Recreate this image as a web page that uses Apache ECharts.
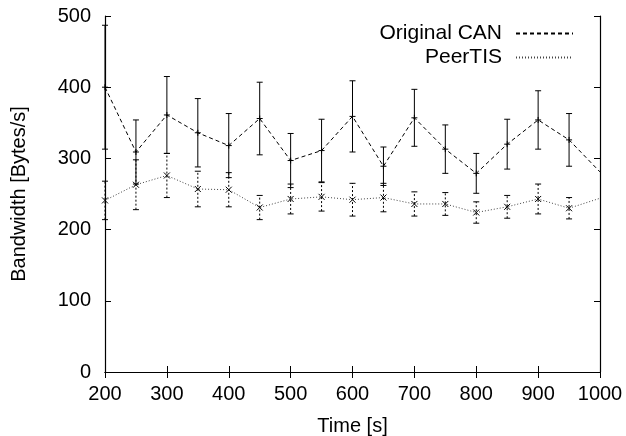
<!DOCTYPE html>
<html>
<head>
<meta charset="utf-8">
<script src="https://cdn.jsdelivr.net/npm/echarts@6/dist/echarts.min.js"></script>
<style>
  html, body { margin: 0; padding: 0; background: #fff; }
  #chart { width: 626px; height: 436px; }
</style>
</head>
<body>
<div id="chart"></div>
<script>
var times = [200, 250, 300, 350, 400, 450, 500, 550, 600, 650, 700, 750, 800, 850, 900, 950, 1000];
var canMean = [400, 309, 361, 336, 318, 356, 297, 311, 359, 289, 357, 313, 279, 320, 354, 326, 281];
var canErr = [87, 45, 54, 48, 45, 51, 38, 44, 50, 27, 40, 34, 28, 35, 41, 37, 40];
var peerMean = [241, 263, 276, 257, 256, 231, 243, 246, 242, 245, 236, 236, 224, 232, 243, 230, 244];
var peerErr = [27, 35, 31, 25, 24, 17, 21, 20, 23, 20, 17, 16, 15, 16, 21, 15, 18];
// the last sample sits on the right border, where no bar or marker shows
var markedCount = 16;

var font = "Liberation Sans";

function pairs(means) {
  return times.map(function (t, i) { return [t, means[i]]; });
}
function triples(means, errs) {
  return times.slice(0, markedCount).map(function (t, i) { return [t, means[i], errs[i]]; });
}

// vertical error bar with caps plus the point marker
function errorBars(dash, marker) {
  return function (params, api) {
    var x = api.value(0), m = api.value(1), e = api.value(2);
    var lo = api.coord([x, m - e]);
    var hi = api.coord([x, m + e]);
    var c = api.coord([x, m]);
    var style = { stroke: "#000", lineWidth: 1, lineDash: dash };
    var solid = { stroke: "#000", lineWidth: 1 };
    var children = [
      { type: "line", shape: { x1: lo[0], y1: lo[1], x2: hi[0], y2: hi[1] }, style: style },
      { type: "line", shape: { x1: lo[0] - 3, y1: lo[1], x2: lo[0] + 3, y2: lo[1] }, style: solid },
      { type: "line", shape: { x1: hi[0] - 3, y1: hi[1], x2: hi[0] + 3, y2: hi[1] }, style: solid }
    ];
    if (marker === "plus") {
      children.push({ type: "line", shape: { x1: c[0] - 3, y1: c[1], x2: c[0] + 3, y2: c[1] }, style: solid });
      children.push({ type: "line", shape: { x1: c[0], y1: c[1] - 3, x2: c[0], y2: c[1] + 3 }, style: solid });
    } else {
      children.push({ type: "line", shape: { x1: c[0] - 3, y1: c[1] - 3, x2: c[0] + 3, y2: c[1] + 3 }, style: solid });
      children.push({ type: "line", shape: { x1: c[0] - 3, y1: c[1] + 3, x2: c[0] + 3, y2: c[1] - 3 }, style: solid });
    }
    return { type: "group", children: children };
  };
}

var axisLine = { lineStyle: { color: "#000", width: 1.2 } };
var tickIn = { inside: true, length: 6, lineStyle: { color: "#000", width: 1 } };
var labelStyle = { color: "#000", fontFamily: font, fontSize: 20 };

var chart = echarts.init(document.getElementById("chart"));

var option = {
  animation: false,
  backgroundColor: "#fff",
  grid: { left: 105, right: 26, top: 16, bottom: 64, outerBoundsMode: "none" },
  legend: {
    orient: "vertical",
    right: 47,
    top: 18,
    align: "right",
    itemWidth: 57,
    itemHeight: 10,
    itemGap: 3,
    itemStyle: { opacity: 0 },
    textStyle: { color: "#000", fontFamily: font, fontSize: 21, lineHeight: 18, padding: [0, 9, 0, 0] },
    data: ["Original CAN", "PeerTIS"]
  },
  xAxis: [
    {
      type: "value", min: 200, max: 1000, interval: 100,
      axisLine: axisLine, axisTick: tickIn, splitLine: { show: false },
      axisLabel: Object.assign({ margin: 12, formatter: function (v) { return String(v); } }, labelStyle),
      name: "Time [s]", nameLocation: "middle", nameGap: 44,
      nameTextStyle: { color: "#000", fontFamily: font, fontSize: 20 }
    },
    {
      type: "value", min: 200, max: 1000, interval: 100, position: "top",
      axisLine: axisLine, axisTick: tickIn, splitLine: { show: false },
      axisLabel: { show: false }
    }
  ],
  yAxis: [
    {
      type: "value", min: 0, max: 500, interval: 100,
      axisLine: Object.assign({ show: true }, axisLine), axisTick: tickIn, splitLine: { show: false },
      axisLabel: Object.assign({ margin: 14 }, labelStyle),
      name: "Bandwidth [Bytes/s]", nameLocation: "middle", nameGap: 76,
      nameTextStyle: { color: "#000", fontFamily: font, fontSize: 20 }
    },
    {
      type: "value", min: 0, max: 500, interval: 100, position: "right",
      axisLine: Object.assign({ show: true }, axisLine), axisTick: tickIn, splitLine: { show: false },
      axisLabel: { show: false }
    }
  ],
  series: [
    {
      name: "Original CAN",
      type: "line",
      data: pairs(canMean),
      symbol: "none",
      itemStyle: { color: "#000" },
      lineStyle: { color: "#000", width: 1, type: [4, 3] },
      z: 3
    },
    {
      name: "PeerTIS",
      type: "line",
      data: pairs(peerMean),
      symbol: "none",
      itemStyle: { color: "#444" },
      lineStyle: { color: "#444", width: 1, type: [1, 2] },
      z: 3
    },
    {
      type: "custom",
      data: triples(canMean, canErr),
      renderItem: errorBars(null, "plus"),
      encode: { x: 0, y: 1 },
      clip: false,
      z: 4
    },
    {
      type: "custom",
      data: triples(peerMean, peerErr),
      renderItem: errorBars([2, 2], "cross"),
      encode: { x: 0, y: 1 },
      clip: false,
      z: 4
    }
  ]
};

chart.setOption(option);
</script>
</body>
</html>
